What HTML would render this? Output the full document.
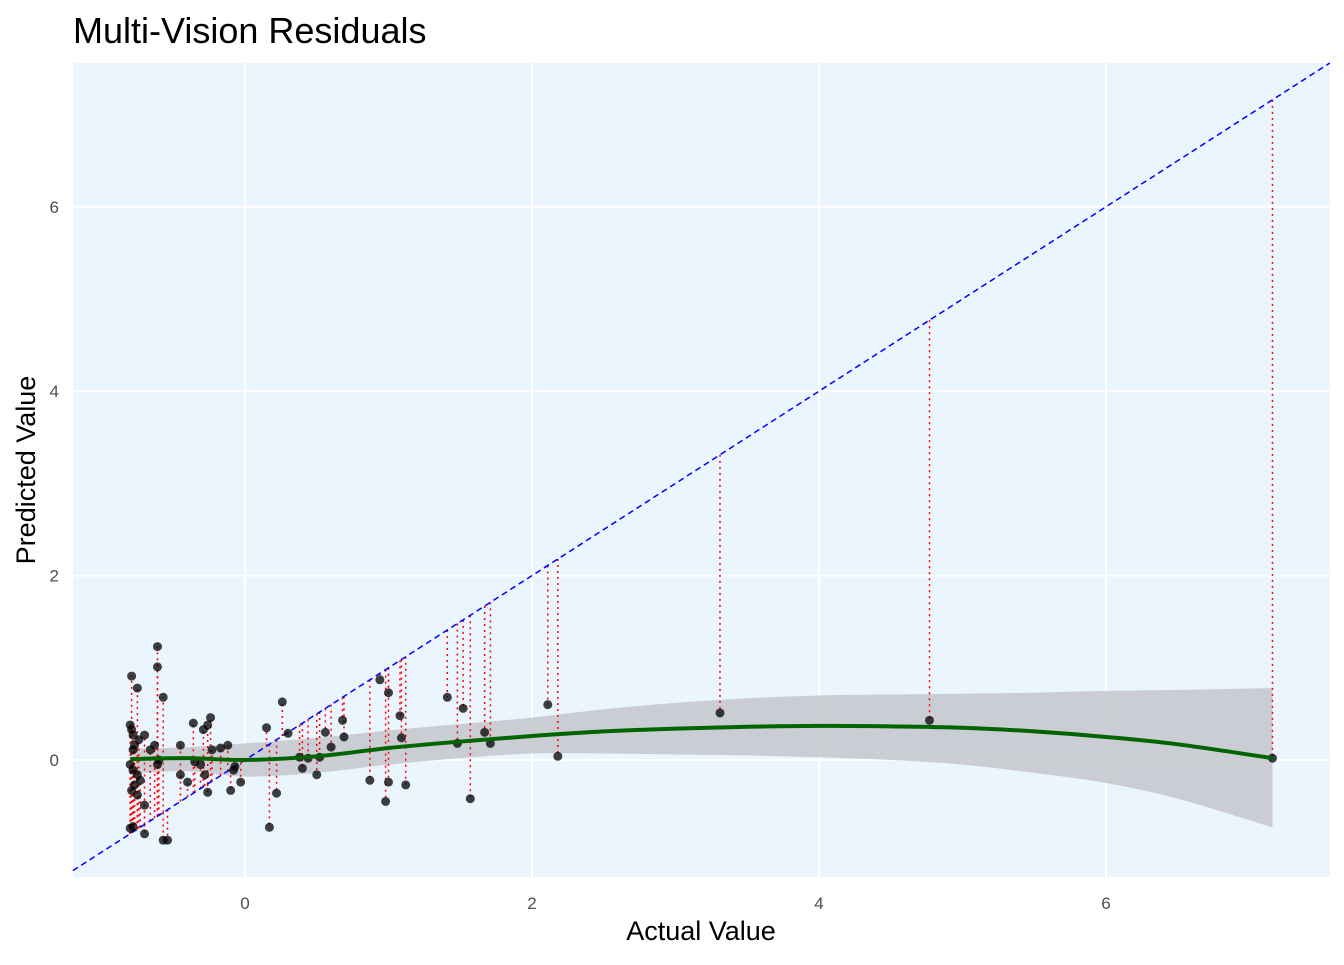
<!DOCTYPE html>
<html><head><meta charset="utf-8"><style>
body{margin:0;background:#fff;font-family:"Liberation Sans",sans-serif;}
svg text{font-family:"Liberation Sans",sans-serif;}
</style></head><body>
<svg id="chart" width="1344" height="960">
<text x="73" y="43" font-size="36" fill="#000">Multi-Vision Residuals</text>
<rect x="73" y="63" width="1257" height="814" fill="#ebf5fe"/>
<g id="grid"></g><g id="ribbon"></g><g id="segs"></g><g id="diag"></g><g id="pts"></g><g id="smooth"></g><g id="axes"></g>
<text x="701" y="940" font-size="27" text-anchor="middle" fill="#000">Actual Value</text>
<text transform="translate(35,470) rotate(-90)" font-size="27" text-anchor="middle" fill="#000">Predicted Value</text>
</svg>
<script>
const actual=[-0.79,-0.75,-0.61,-0.61,-0.57,-0.80,-0.79,-0.78,-0.74,-0.70,-0.77,-0.78,-0.80,-0.78,-0.75,-0.73,-0.77,-0.79,-0.75,-0.70,-0.78,-0.80,-0.70,-0.57,-0.54,-0.66,-0.63,-0.60,-0.61,
-0.45,-0.45,-0.40,-0.36,-0.35,-0.31,-0.29,-0.28,-0.26,-0.24,-0.26,-0.23,-0.17,-0.12,-0.10,-0.08,-0.03,-0.07,
0.15,0.17,0.22,0.26,0.30,0.38,0.40,0.44,0.50,0.52,0.56,0.60,0.68,0.69,
0.87,0.94,0.98,1.00,1.00,1.08,1.09,1.12,1.41,1.48,1.52,1.57,1.67,1.71,2.11,2.18,3.31,4.77,7.16];
const predicted=[0.91,0.78,1.23,1.01,0.68,0.38,0.33,0.27,0.22,0.27,0.16,0.11,-0.05,-0.11,-0.16,-0.22,-0.27,-0.33,-0.38,-0.49,-0.72,-0.74,-0.80,-0.87,-0.87,0.11,0.16,0.0,-0.05,
0.16,-0.16,-0.24,0.40,-0.02,-0.05,0.33,-0.16,0.38,0.46,-0.35,0.11,0.13,0.16,-0.33,-0.11,-0.24,-0.07,
0.35,-0.73,-0.36,0.63,0.29,0.03,-0.09,0.02,-0.16,0.03,0.30,0.14,0.43,0.25,
-0.22,0.87,-0.45,0.73,-0.24,0.48,0.24,-0.27,0.68,0.18,0.56,-0.42,0.30,0.18,0.60,0.04,0.51,0.43,0.02];
const smoothX=[-0.8,-0.4,0,0.5,1,1.5,2,2.5,3,3.5,4,4.5,5,5.5,6,6.5,7.16];
const smoothY=[0.01,0.02,0.0,0.04,0.13,0.2,0.26,0.31,0.34,0.36,0.37,0.365,0.35,0.31,0.25,0.17,0.02];
const upperY=[0.12,0.14,0.18,0.24,0.32,0.39,0.46,0.55,0.62,0.67,0.70,0.71,0.72,0.73,0.75,0.76,0.78];
const lowerY=[-0.15,-0.12,-0.18,-0.14,-0.05,0.02,0.07,0.07,0.06,0.05,0.03,0.0,-0.05,-0.14,-0.25,-0.42,-0.73];
const xTicks=[0,2,4,6], yTicks=[0,2,4,6];
const X=v=>245+v*143.5, Y=v=>760-v*92.2;
const NS='http://www.w3.org/2000/svg';
function mk(p,t,a){const e=document.createElementNS(NS,t);for(const k in a)e.setAttribute(k,a[k]);document.getElementById(p).appendChild(e);return e;}
xTicks.forEach(v=>{const e=mk('grid','line',{x1:X(v),x2:X(v),y1:63,y2:877,stroke:'#fff','stroke-width':2});

const t=mk('axes','text',{x:X(v),y:909,'font-size':17,fill:'#4d4d4d','text-anchor':'middle'});t.textContent=v;
});
yTicks.forEach(v=>{const e=mk('grid','line',{x1:73,x2:1330,y1:Y(v),y2:Y(v),stroke:'#fff','stroke-width':2});

const t=mk('axes','text',{x:59,y:Y(v)+6,'font-size':17,fill:'#4d4d4d','text-anchor':'end'});t.textContent=v;
});
function spline(xs,ys,first){let d='';const n=xs.length;
const P=xs.map((x,i)=>[X(x),Y(ys[i])]);
d+=(first?'M':'L')+P[0][0]+','+P[0][1];
for(let i=0;i<n-1;i++){const p0=P[Math.max(i-1,0)],p1=P[i],p2=P[i+1],p3=P[Math.min(i+2,n-1)];
d+='C'+(p1[0]+(p2[0]-p0[0])/6)+','+(p1[1]+(p2[1]-p0[1])/6)+' '+(p2[0]-(p3[0]-p1[0])/6)+','+(p2[1]-(p3[1]-p1[1])/6)+' '+p2[0]+','+p2[1];}
return d;}
const rx=[...smoothX].reverse(), rl=[...lowerY].reverse();
const rb=mk('ribbon','path',{d:spline(smoothX,upperY,true)+spline(rx,rl,false)+'Z',fill:'#c4c7cc','fill-opacity':0.85});

actual.forEach((a,i)=>{const e=mk('segs','line',{x1:X(a),x2:X(a),y1:Y(a),y2:Y(predicted[i]),stroke:'#ff0000','stroke-width':1.5,'stroke-dasharray':'2,4'});
});
const dg=mk('diag','line',{x1:X(-1.2),y1:Y(-1.2),x2:X(7.56),y2:Y(7.56),stroke:'#0000ff','stroke-width':1.5,'stroke-dasharray':'6,4'});

actual.forEach((a,i)=>{const e=mk('pts','circle',{cx:X(a),cy:Y(predicted[i]),r:4.5,fill:'#000','fill-opacity':0.75});
});
const sm=mk('smooth','path',{d:spline(smoothX,smoothY,true),fill:'none',stroke:'#006400','stroke-width':4,'stroke-linejoin':'round'});

</script>
</body></html>
